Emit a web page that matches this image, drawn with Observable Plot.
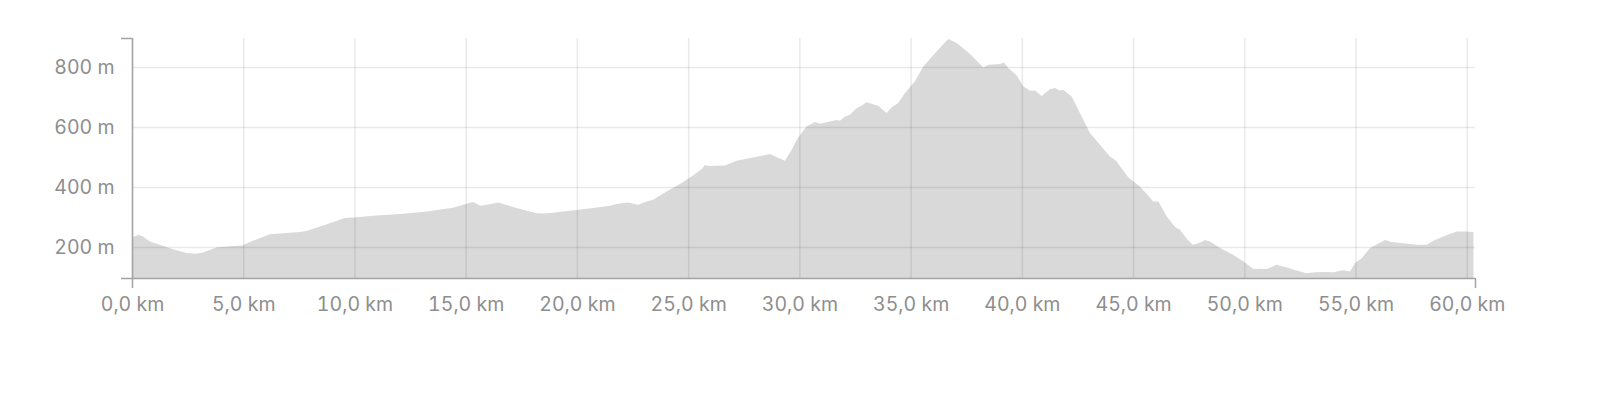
<!DOCTYPE html>
<html>
<head>
<meta charset="utf-8">
<script src="https://cdn.jsdelivr.net/npm/d3@7"></script>
<script src="https://cdn.jsdelivr.net/npm/@observablehq/plot@0.6"></script>
<style>
  html, body { margin: 0; padding: 0; background: #fff; }
</style>
</head>
<body>
<div id="chart"></div>
<script>
// Distance along route (km)
const distanceKm = [
  0.0, 0.3, 0.5, 0.8, 1.24, 1.84, 2.45, 2.89, 3.19, 3.79, 4.24, 4.95, 5.44, 6.19, 6.94, 7.54,
  7.84, 8.59, 9.57, 9.97, 10.99, 12.04, 13.09, 14.43, 14.88, 15.33, 15.66, 16.08, 16.46, 17.28, 18.18, 18.6,
  19.08, 19.98, 20.73, 21.48, 21.78, 22.3, 22.75, 23.13, 23.43, 24.03, 24.63, 25.22, 25.65, 25.75, 25.9, 26.65,
  27.18, 27.92, 28.67, 28.82, 29.35, 29.65, 29.9, 30.32, 30.7, 30.92, 31.37, 31.67, 31.82, 32.05, 32.27, 32.57,
  32.79, 33.02, 33.54, 33.92, 34.14, 34.44, 34.74, 35.19, 35.57, 35.87, 36.24, 36.69, 37.07, 37.67, 38.27, 38.5,
  39.02, 39.2, 39.39, 39.77, 40.07, 40.37, 40.59, 40.89, 41.26, 41.49, 41.71, 41.86, 42.24, 42.61, 43.06, 43.51,
  43.96, 44.23, 44.79, 45.31, 45.91, 46.14, 46.51, 46.89, 47.11, 47.41, 47.68, 47.94, 48.24, 48.46, 48.91, 49.51,
  49.96, 50.41, 50.71, 51.01, 51.46, 51.91, 52.35, 52.8, 53.18, 53.55, 54.0, 54.45, 54.75, 54.98, 55.28, 55.65,
  56.33, 56.62, 57.22, 57.75, 58.2, 58.5, 59.02, 59.55, 59.92, 60.3
];
// Elevation (m)
const elevationM = [
  233, 241, 235, 219, 208, 193, 180, 178, 182, 199, 202, 205, 221, 243, 247, 250,
  254, 272, 297, 299, 305, 310, 317, 331, 341, 350, 338, 343, 349, 330, 313, 312,
  316, 324, 330, 338, 344, 349, 341, 352, 358, 385, 410, 439, 463, 474, 470, 472,
  488, 499, 510, 505, 488, 524, 560, 602, 617, 611, 619, 624, 621, 635, 641, 663,
  671, 683, 671, 647, 665, 680, 713, 752, 802, 827, 858, 894, 880, 844, 799, 808,
  810, 815, 797, 772, 735, 721, 722, 704, 726, 730, 722, 724, 702, 647, 580, 541,
  502, 488, 432, 402, 352, 352, 302, 267, 258, 228, 208, 213, 224, 219, 197, 174,
  152, 127, 128, 127, 141, 132, 122, 113, 116, 117, 116, 123, 119, 147, 163, 197,
  224, 217, 212, 208, 208, 221, 238, 252, 252, 250
];
// Tick values
const xTicks = [0, 5, 10, 15, 20, 25, 30, 35, 40, 45, 50, 55, 60];
const yTicks = [200, 400, 600, 800];
const xDomain = [0, 60.37];
const yDomain = [97, 897];

const data = distanceKm.map((d, i) => ({ d, e: elevationM[i] }));
const fmtKm = v => d3.format(".1f")(v).replace(".", ",") + " km";

const axisColor = "#a3a3a3";
const textColor = "#8e8e8e";

const chart = Plot.plot({
  width: 1598,
  height: 412,
  marginTop: 38,
  marginBottom: 134,
  marginLeft: 132,
  marginRight: 123,
  style: { fontFamily: "Inter, 'Liberation Sans', sans-serif", fontSize: "19.5px", color: textColor, background: "#fff" },
  x: { domain: xDomain, axis: null },
  y: { domain: yDomain, axis: null },
  marks: [
    Plot.areaY(data, { x: "d", y1: yDomain[0], y2: "e", fill: "#d9d9d9", curve: "linear" }),
    Plot.gridX(xTicks, { stroke: "#000", strokeOpacity: 0.085, strokeWidth: 1.5 }),
    Plot.gridY(yTicks, { stroke: "#000", strokeOpacity: 0.085, strokeWidth: 1.5 }),
    Plot.ruleX([xDomain[0]], { stroke: axisColor, strokeWidth: 1.5 }),
    Plot.ruleY([yDomain[0]], { stroke: axisColor, strokeWidth: 1.5 }),
    Plot.axisY(yDomain, { tickSize: 11, tickFormat: () => "", label: null, stroke: axisColor, strokeWidth: 1.5 }),
    Plot.axisX(xDomain, { tickSize: 10, tickFormat: () => "", label: null, stroke: axisColor, strokeWidth: 1.5 }),
    Plot.axisY(yTicks, { tickSize: 0, tickPadding: 18, tickFormat: v => v + " m", label: null, fill: textColor }),
    Plot.axisX(xTicks, { tickSize: 0, tickPadding: 19, tickFormat: fmtKm, label: null, fill: textColor })
  ]
});
document.getElementById("chart").appendChild(chart);
</script>
</body>
</html>
